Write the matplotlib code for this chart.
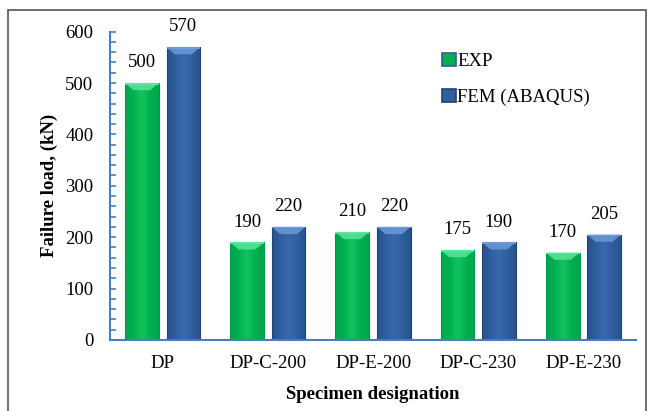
import numpy as np
import matplotlib
matplotlib.use("Agg")
import matplotlib.pyplot as plt
from matplotlib.patches import Rectangle, Polygon
from matplotlib.colors import LinearSegmentedColormap

plt.rcParams['font.family'] = ['Liberation Serif', 'DejaVu Serif']

specimens = ["DP", "DP-C-200", "DP-E-200", "DP-C-230", "DP-E-230"]
exp_load = [500, 190, 210, 175, 170]
fem_load = [570, 220, 220, 190, 205]
series_names = ["EXP", "FEM (ABAQUS)"]
y_ticks = [0, 100, 200, 300, 400, 500, 600]

green = "#00B050"
blue = "#2F5F9F"
axis_blue = "#4A7EBB"
fs = 13.5

fig = plt.figure(figsize=(6.51, 4.11), dpi=100)
ax = fig.add_axes([0.169, 0.173, 0.808, 0.750])

# outer frame around the chart area
fig.patches.append(Rectangle((8 / 651, -0.02), (646 - 8) / 651, 1 - 10 / 411 + 0.02,
                             transform=fig.transFigure, fill=False,
                             edgecolor="#555555", linewidth=1.2, zorder=0))

x = np.arange(len(specimens))
w = 0.32
off = 0.197

def shaded_bars(xpos, vals, base, light, dark, top):
    bars = ax.bar(xpos, vals, width=w, color=base, edgecolor=dark,
                  linewidth=0.8, zorder=2)
    cmap = LinearSegmentedColormap.from_list("shade", [dark, base, light, base, dark])
    grad = np.linspace(0, 1, 64).reshape(1, -1)
    for b in bars:
        x0, y0 = b.get_x(), b.get_y()
        bw, bh = b.get_width(), b.get_height()
        im = ax.imshow(grad, cmap=cmap, aspect="auto", interpolation="bicubic",
                       extent=[x0, x0 + bw, y0, y0 + bh], zorder=2.1, alpha=0.45)
        im.set_clip_path(b)
        # bevel on the top face
        bev = 14
        ax.add_patch(Polygon([(x0, y0 + bh), (x0 + bw, y0 + bh),
                              (x0 + bw * 0.75, y0 + bh - bev),
                              (x0 + bw * 0.25, y0 + bh - bev)],
                             closed=True, facecolor=top, edgecolor="none",
                             alpha=0.85, zorder=2.2))
        ax.add_patch(Rectangle((x0, y0 + bh - 3), bw, 3, facecolor=top,
                               edgecolor="none", zorder=2.3))
        ax.annotate(f"{int(bh)}", (x0 + bw / 2, y0 + bh), xytext=(0, 14.5),
                    textcoords="offset points", ha="center", va="center",
                    fontsize=fs, color="black", zorder=4)
    return bars

b1 = shaded_bars(x - off, exp_load, green, "#2FD873", "#00974A", "#5DE39A")
b2 = shaded_bars(x + off, fem_load, blue, "#4577BB", "#1F4373", "#6C9AD8")

ax.set_xlim(-0.5, len(specimens) - 0.5)
ax.set_ylim(0, 600)
ax.set_yticks(y_ticks)
ax.set_yticks(np.arange(0, 601, 20), minor=True)
ax.set_xticks(x)
ax.set_xticklabels(specimens, fontsize=fs)
ax.tick_params(axis="x", length=0, pad=11)
ax.tick_params(axis="y", which="both", direction="in", length=4, width=1.2,
               color=axis_blue, labelsize=fs, pad=12)

for s in ["top", "right"]:
    ax.spines[s].set_visible(False)
for s in ["left", "bottom"]:
    ax.spines[s].set_color(axis_blue)
    ax.spines[s].set_linewidth(1.5)
    ax.spines[s].set_zorder(5)

ax.set_ylabel("Failure load, (kN)", fontsize=fs, fontweight="bold", labelpad=5)
ax.set_xlabel("Specimen designation", fontsize=fs, fontweight="bold", labelpad=10)

h1 = Rectangle((0, 0), 1, 1, facecolor=green, edgecolor=blue, linewidth=1.2)
h2 = Rectangle((0, 0), 1, 1, facecolor=blue, edgecolor="#1F4373", linewidth=1.2)
leg = ax.legend([h1, h2], series_names, loc="upper left",
                bbox_to_anchor=(0.6, 0.985), frameon=False, fontsize=fs,
                handlelength=0.7, handleheight=0.7, handletextpad=0.1,
                labelspacing=1.0)

fig.savefig("out.png", dpi=100)
